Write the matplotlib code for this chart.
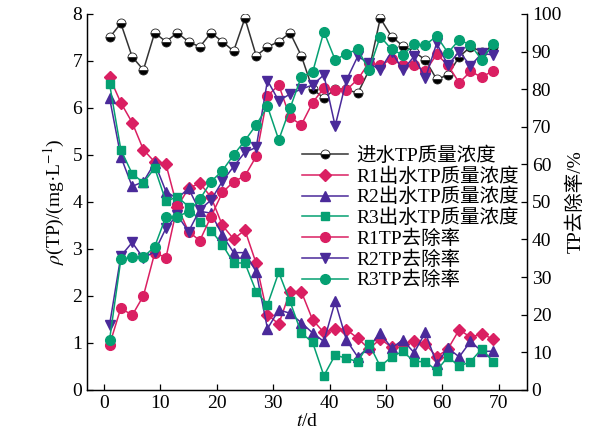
import matplotlib.pyplot as plt
import numpy as np

plt.rcParams['font.family'] = ['Liberation Serif', 'Noto Sans CJK SC']
plt.rcParams['mathtext.fontset'] = 'stix'

days = np.arange(1, 70, 2)

# concentrations, mg/L
influent = [7.50, 7.80, 7.09, 6.81, 7.60, 7.41, 7.60, 7.41, 7.30, 7.60, 7.41, 7.21, 7.91, 7.11, 7.30,
            7.41, 7.60, 7.11, 6.40, 6.21, 6.40, 6.40, 6.31, 6.80, 7.91, 7.52, 7.32, 7.20, 7.02, 6.61,
            6.70, 7.09, 7.30, 7.20, 7.30]
r1_eff = [6.65, 6.11, 5.69, 5.11, 4.85, 4.80, 3.89, 4.29, 4.40, 4.10, 3.50, 3.21, 3.40, 2.69, 1.60,
          1.40, 2.09, 2.09, 1.49, 1.22, 1.29, 1.28, 1.10, 0.87, 1.08, 0.91, 0.98, 1.03, 0.98, 0.70,
          0.87, 1.28, 1.12, 1.19, 1.08]
r2_eff = [6.21, 4.96, 4.33, 4.43, 4.83, 4.22, 4.07, 4.29, 3.80, 3.76, 3.29, 2.92, 2.92, 2.51, 1.30,
          1.70, 1.63, 1.43, 1.21, 1.03, 1.88, 1.06, 0.70, 0.91, 1.21, 0.89, 1.06, 0.79, 1.22, 0.55,
          0.89, 0.70, 1.03, 0.82, 0.82]
r3_eff = [6.51, 5.11, 4.60, 4.41, 4.72, 4.01, 4.11, 3.90, 3.58, 3.39, 3.09, 2.70, 2.70, 2.09, 1.81,
          2.50, 1.88, 1.21, 1.01, 0.30, 0.74, 0.67, 0.60, 0.98, 0.50, 0.70, 0.82, 0.60, 0.60, 0.41,
          0.70, 0.50, 0.60, 0.87, 0.60]

# removal rates, %
r1_rem = [12.0, 21.8, 19.8, 25.0, 36.4, 35.2, 48.8, 42.1, 39.7, 46.1, 52.5, 55.4, 56.9, 62.1, 78.2,
          81.1, 72.5, 70.5, 76.4, 80.3, 79.8, 79.8, 82.6, 87.0, 86.4, 87.9, 86.4, 86.4, 84.7, 89.3,
          86.4, 81.7, 84.7, 83.2, 84.9]
r2_rem = [17.3, 35.6, 39.2, 35.0, 36.8, 43.0, 46.5, 42.1, 47.9, 50.5, 55.5, 59.4, 63.2, 64.5, 82.3,
          76.9, 78.7, 80.0, 81.1, 83.8, 70.2, 82.4, 88.7, 86.9, 85.1, 90.0, 85.1, 88.7, 82.9, 92.2,
          86.4, 90.0, 86.2, 89.5, 89.1]
r3_rem = [13.3, 34.7, 35.3, 35.3, 38.1, 46.1, 46.1, 47.4, 50.7, 55.4, 58.3, 62.5, 66.3, 70.5, 75.4,
          66.5, 74.9, 83.3, 84.5, 95.3, 87.8, 89.4, 90.6, 85.1, 94.0, 90.6, 89.1, 91.9, 91.8, 94.1,
          89.7, 93.1, 91.8, 87.8, 92.0]

labels = ['进水TP质量浓度', 'R1出水TP质量浓度', 'R2出水TP质量浓度', 'R3出水TP质量浓度',
          'R1TP去除率', 'R2TP去除率', 'R3TP去除率']

pink = '#da1f62'
purple = '#4a2a9a'
green = '#05a072'

fig = plt.figure(figsize=(5.92, 4.37), dpi=100)
ax1 = fig.add_axes([0.147, 0.108, 0.743, 0.860])
ax2 = ax1.twinx()

lw = 1.1
ms = 7
h = []
h += ax1.plot(days, influent, color='#333333', lw=lw, marker='o', ms=6.5, fillstyle='bottom',
              markerfacecolor='black', markerfacecoloralt='white', markeredgecolor='#222222',
              markeredgewidth=0.6)
h += ax1.plot(days, r1_eff, color=pink, lw=lw, marker='D', ms=6)
h += ax1.plot(days, r2_eff, color=purple, lw=lw, marker='^', ms=ms)
h += ax1.plot(days, r3_eff, color=green, lw=lw, marker='s', ms=6)
h += ax2.plot(days, r1_rem, color=pink, lw=lw, marker='o', ms=ms)
h += ax2.plot(days, r2_rem, color=purple, lw=lw, marker='v', ms=ms)
h += ax2.plot(days, r3_rem, color=green, lw=lw, marker='o', ms=ms)

ax1.set_xlim(-3, 75)
ax1.set_ylim(0, 8)
ax2.set_ylim(0, 100)
ax1.set_xticks(np.arange(0, 71, 10))
ax1.set_yticks(np.arange(0, 9, 1))
ax2.set_yticks(np.arange(0, 101, 10))

for ax in (ax1, ax2):
    ax.spines['top'].set_visible(False)
    ax.tick_params(direction='in', labelsize=14, length=4, width=0.9)
    for s in ax.spines.values():
        s.set_linewidth(0.9)

ax1.set_xlabel(r'$t$/d', fontsize=14, labelpad=1)
ax1.set_ylabel(r'$\rho$(TP)/(mg·L$^{-1}$)', fontsize=14, labelpad=4)
ax2.set_ylabel('TP去除率/%', fontsize=14, labelpad=4)

ax1.legend(h, labels, loc='upper left', bbox_to_anchor=(0.47, 0.668), frameon=False,
           fontsize=14, labelspacing=0.12, handlelength=2.4, handletextpad=0.4,
           borderaxespad=0)

fig.savefig('out.png', dpi=100)
